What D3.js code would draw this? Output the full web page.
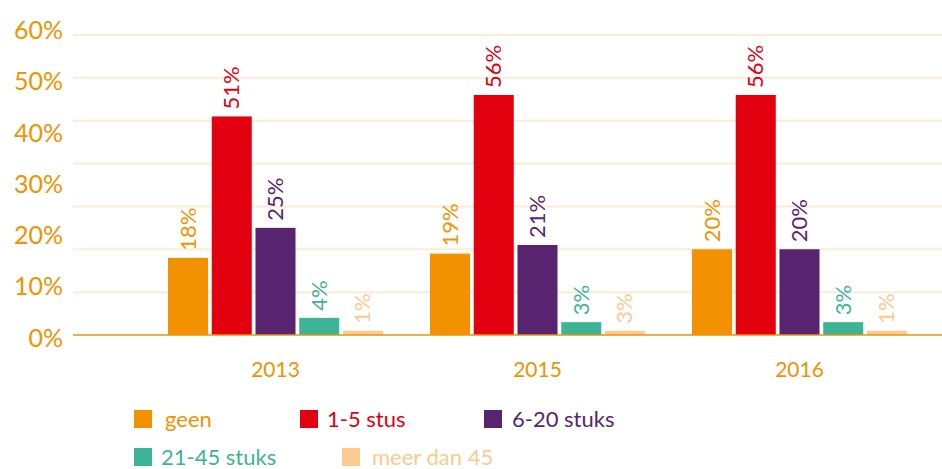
<!DOCTYPE html>
<html><head><meta charset="utf-8">
<script src="https://cdn.jsdelivr.net/npm/d3@7"></script>
<style>body{margin:0;background:#fff}svg{display:block}text{font-family:Lato,"Open Sans",sans-serif}</style>
</head><body>
<svg id="c" width="942" height="469"></svg>
<script>
const years = ["2013", "2015", "2016"];
const series = ["geen", "1-5 stus", "6-20 stuks", "21-45 stuks", "meer dan 45"];
const colors = ["#F39200", "#E3000F", "#58246F", "#3DB497", "#FDCA8F"];
// bar heights as drawn
const values = [
  [18, 51, 25, 4, 1],
  [19, 56, 21, 3, 1],
  [20, 56, 20, 3, 1]
];
// value labels as printed
const valueLabels = [
  ["18%", "51%", "25%", "4%", "1%"],
  ["19%", "56%", "21%", "3%", "3%"],
  ["20%", "56%", "20%", "3%", "1%"]
];
const yTickLabels = [0, 10, 20, 30, 40, 50, 60];
const gridValues = [10, 20, 30, 40, 50, 60, 70];

const svg = d3.select("#c");
const y = d3.scaleLinear().domain([0, 70]).range([335, 35]);
const yLab = d3.scaleLinear().domain([0, 60]).range([336.5, 29]);
const x0 = d3.scaleBand().domain(years).range([144.5, 930.5]).padding(0);
const x1 = d3.scaleBand().domain(series).range([0, 215]).paddingInner(0.085).paddingOuter(0);
const groupOff = (x0.bandwidth() - 215) / 2;

svg.append("g").selectAll("line").data(gridValues).join("line")
  .attr("x1", 73).attr("x2", 942)
  .attr("y1", d => y(d)).attr("y2", d => y(d))
  .attr("stroke", "#FDEBD3").attr("stroke-width", 2);

svg.append("g").selectAll("text").data(yTickLabels).join("text")
  .attr("x", 63).attr("y", d => yLab(d))
  .attr("text-anchor", "end").attr("dominant-baseline", "central")
  .attr("fill", "#F39200").attr("font-size", 25)
  .text(d => d + "%");

const rows = (d, i) => values[i].map((v, j) => ({v, s: series[j], j, label: valueLabels[i][j]}));
const g = svg.append("g").selectAll("g").data(years).join("g")
  .attr("transform", d => `translate(${x0(d) + groupOff},0)`);
g.selectAll("rect").data(rows).join("rect")
  .attr("x", d => x1(d.s)).attr("width", x1.bandwidth())
  .attr("y", d => y(d.v)).attr("height", d => y(0) - y(d.v))
  .attr("fill", d => colors[d.j]);
g.selectAll("text").data(rows).join("text")
  .attr("transform", d => `translate(${x1(d.s) + x1.bandwidth() / 2 - 1},${y(d.v) - 7}) rotate(-90)`)
  .attr("dominant-baseline", "central")
  .attr("fill", d => colors[d.j]).attr("font-size", 22)
  .text(d => d.label);

svg.append("line").attr("x1", 73).attr("x2", 942).attr("y1", y(0)).attr("y2", y(0))
  .attr("stroke", "#F39200").attr("stroke-width", 1.5);

svg.append("g").selectAll("text").data(years).join("text")
  .attr("x", d => x0(d) + x0.bandwidth() / 2).attr("y", 377)
  .attr("text-anchor", "middle").attr("fill", "#F39200").attr("font-size", 21)
  .text(d => d);

const legPos = [[134, 410, 165], [300, 410, 327], [484, 410, 512], [134, 448, 161], [342, 448, 372]];
const lg = svg.append("g").selectAll("g").data(series).join("g");
lg.append("rect").attr("x", (d, i) => legPos[i][0]).attr("y", (d, i) => legPos[i][1])
  .attr("width", 18).attr("height", 18).attr("fill", (d, i) => colors[i]);
lg.append("text").attr("x", (d, i) => legPos[i][2]).attr("y", (d, i) => legPos[i][1] + 8)
  .attr("dominant-baseline", "central").attr("fill", (d, i) => colors[i]).attr("font-size", 22)
  .text(d => d);
</script>
</body></html>
